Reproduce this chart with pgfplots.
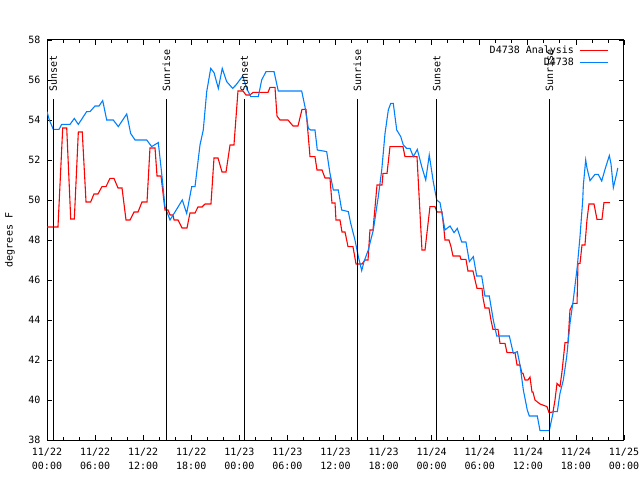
\documentclass[border=0pt]{standalone}
\usepackage{pgfplots}
\pgfplotsset{compat=1.18}
\usepackage{fontspec}
\setmainfont{DejaVu Sans Mono}
\definecolor{gpblue}{RGB}{0,128,255}
\begin{document}
\fontsize{10bp}{13bp}\selectfont
\begin{tikzpicture}
\begin{axis}[
  at={(0,0)}, anchor=south west,
  scale only axis, width=577bp, height=400bp,
  xmin=0, xmax=72, ymin=38, ymax=58,
  xtick={0,6,...,72}, minor x tick num=2,
  xticklabels={11/22\\00:00,11/22\\06:00,11/22\\12:00,11/22\\18:00,11/23\\00:00,11/23\\06:00,11/23\\12:00,11/23\\18:00,11/24\\00:00,11/24\\06:00,11/24\\12:00,11/24\\18:00,11/25\\00:00},
  ytick={38,40,...,58},
  tick align=inside, major tick length=5bp, minor tick length=3bp,
  tick style={black, line width=0.8bp},
  axis line style={line width=1bp},
  /pgf/number format/assume math mode=true,
  xticklabel style={align=center, font=\fontsize{10bp}{13.5bp}\selectfont, yshift=-5bp},
  yticklabel style={font=\fontsize{10bp}{13bp}\selectfont, xshift=-3bp},
  legend plot pos=right,
  legend cell align=right,
  legend style={at={(rel axis cs:0.978,0.995)}, anchor=north east, draw=none, fill=none,
    font=\fontsize{10bp}{12bp}\selectfont, row sep=-1bp,
    /tikz/every odd column/.append style={column sep=3bp}},
  legend image code/.code={\draw[#1] (0bp,0bp) -- (28bp,0bp);},
]
\addplot[red, line width=1.1bp, no marks] table {
0 48.65
1.37 48.65
1.96 53.6
2.46 53.6
2.96 49.05
3.41 49.05
3.91 53.4
4.40 53.4
4.87 49.9
5.45 49.9
5.86 50.3
6.36 50.3
6.86 50.67
7.36 50.67
7.86 51.08
8.36 51.08
8.86 50.6
9.36 50.6
9.86 49.0
10.36 49.0
10.86 49.4
11.36 49.4
11.85 49.9
12.48 49.9
12.85 52.6
13.48 52.6
13.73 51.2
14.23 51.2
14.72 49.5
15.10 49.5
15.35 49.25
15.72 49.25
15.85 49.0
16.35 49.0
16.85 48.6
17.47 48.6
17.84 49.35
18.47 49.35
18.84 49.65
19.34 49.65
19.72 49.8
20.46 49.8
20.84 52.1
21.34 52.1
21.84 51.4
22.34 51.4
22.84 52.75
23.33 52.75
23.83 55.45
24.46 55.45
24.83 55.25
25.33 55.25
25.71 55.38
27.58 55.38
27.83 55.63
28.45 55.63
28.70 54.2
29.07 54.0
30.07 54.0
30.70 53.7
31.32 53.7
31.82 54.53
32.32 54.53
32.82 52.17
33.44 52.17
33.69 51.5
34.32 51.5
34.69 51.1
35.31 51.1
35.56 49.85
35.94 49.85
36.06 49.0
36.56 49.0
36.81 48.4
37.19 48.4
37.56 47.67
38.18 47.67
38.56 46.8
39.31 46.8
39.68 47.0
40.06 47.0
40.30 48.5
40.68 48.5
41.18 50.75
41.80 50.75
41.93 51.33
42.43 51.33
42.80 52.67
44.42 52.67
44.67 52.17
46.17 52.17
46.79 47.5
47.17 47.5
47.79 49.67
48.41 49.67
48.66 49.4
49.29 49.4
49.54 48.5
49.66 48.0
50.16 48.0
50.41 47.67
50.66 47.2
51.53 47.2
51.66 47.03
52.28 47.03
52.53 46.45
53.16 46.45
53.41 46.0
53.66 45.58
54.28 45.58
54.41 45.1
54.65 44.6
55.15 44.6
55.40 44.0
55.65 43.53
56.28 43.53
56.53 42.83
57.15 42.83
57.40 42.37
58.40 42.37
58.65 41.75
59.02 41.75
59.27 41.33
59.40 41.33
59.65 41.0
60.02 41.0
60.27 41.15
60.52 40.4
60.64 40.4
60.89 40.0
61.52 39.8
62.39 39.67
62.64 39.37
63.14 39.4
63.39 40.0
63.64 40.83
64.01 40.67
64.26 41.4
64.64 42.87
65.01 42.87
65.26 44.5
65.64 44.83
66.14 44.83
66.26 46.83
66.51 46.83
66.76 47.75
67.13 47.75
67.38 49.0
67.63 49.8
68.26 49.8
68.63 49.03
69.25 49.03
69.50 49.87
70.25 49.87
};
\addlegendentry{D4738 Analysis}
\addplot[gpblue, line width=1.1bp, no marks] table {
0 54.42
0.29 54.0
0.79 53.53
1.50 53.53
1.83 53.78
2.87 53.78
3.41 54.08
3.91 53.78
4.95 54.42
5.37 54.42
5.99 54.7
6.49 54.7
6.95 54.97
7.45 54.0
8.27 54.0
8.90 53.67
9.95 54.3
10.44 53.33
10.98 53.0
12.44 53.0
13.06 52.67
13.89 52.87
14.31 51.33
14.72 49.67
15.35 49.0
15.97 49.4
16.88 50.0
17.43 49.33
18.06 50.67
18.47 50.67
19.09 52.75
19.50 53.5
19.93 55.42
20.43 56.58
20.84 56.37
21.38 55.58
21.87 56.58
22.42 55.92
23.17 55.58
23.58 55.75
24.42 56.2
24.92 55.58
25.42 55.17
26.37 55.17
26.79 56.0
27.33 56.42
28.33 56.42
28.86 55.45
31.78 55.45
32.19 54.67
32.61 53.58
32.91 53.5
33.44 53.5
33.73 52.5
34.90 52.42
35.31 51.33
35.73 50.5
36.35 50.5
36.77 49.5
37.60 49.42
37.90 48.83
38.43 48.0
38.85 47.17
39.27 46.47
39.56 46.92
40.09 47.5
40.72 48.5
41.34 50.17
41.77 51.5
42.18 53.33
42.59 54.5
42.89 54.83
43.21 54.83
43.64 53.5
44.14 53.17
44.46 52.75
44.88 52.58
45.30 52.58
45.71 52.17
46.21 52.53
46.76 51.67
47.26 51.0
47.70 52.25
48.20 50.92
48.63 50.0
49.04 49.87
49.66 48.5
50.29 48.7
50.79 48.37
51.20 48.58
51.75 47.9
52.28 47.9
52.70 46.92
53.20 47.17
53.62 46.2
54.24 46.2
54.65 45.2
55.19 45.2
55.69 44.0
56.12 43.2
57.69 43.2
58.19 42.33
58.69 42.42
59.02 41.75
59.44 40.5
59.93 39.5
60.18 39.2
61.18 39.2
61.52 38.47
62.68 38.47
63.18 39.42
63.68 39.42
64.01 40.33
64.43 41.0
64.85 42.17
65.26 43.83
65.67 45.0
66.17 46.67
66.51 48.17
66.85 50.0
66.93 50.75
67.22 52.0
67.38 51.6
67.76 50.97
68.38 51.28
68.79 51.28
69.22 50.95
69.63 51.53
70.17 52.22
70.38 51.8
70.67 50.62
71.09 51.33
71.22 51.6
};
\addlegendentry{D4738}
\draw[black, line width=0.8bp] (axis cs:0.79,38) -- (axis cs:0.79,55.05);
\draw[black, line width=0.8bp] (axis cs:14.89,38) -- (axis cs:14.89,55.05);
\draw[black, line width=0.8bp] (axis cs:24.62,38) -- (axis cs:24.62,55.05);
\draw[black, line width=0.8bp] (axis cs:38.72,38) -- (axis cs:38.72,55.05);
\draw[black, line width=0.8bp] (axis cs:48.63,38) -- (axis cs:48.63,55.05);
\draw[black, line width=0.8bp] (axis cs:62.68,38) -- (axis cs:62.68,55.05);
\node[rotate=90, anchor=west, inner sep=0pt] at (axis cs:0.79,55.4) {Sunset};
\node[rotate=90, anchor=west, inner sep=0pt] at (axis cs:14.89,55.4) {Sunrise};
\node[rotate=90, anchor=west, inner sep=0pt] at (axis cs:24.62,55.4) {Sunset};
\node[rotate=90, anchor=west, inner sep=0pt] at (axis cs:38.72,55.4) {Sunrise};
\node[rotate=90, anchor=west, inner sep=0pt] at (axis cs:48.63,55.4) {Sunset};
\node[rotate=90, anchor=west, inner sep=0pt] at (axis cs:62.68,55.4) {Sunrise};
\node[anchor=base, inner sep=0pt] at (rel axis cs:0.5,1) [yshift=17bp] {Dew Point for D4738 on 2024-Nov-22 (time in UTC)};
\end{axis}
\node[rotate=90, anchor=center, inner sep=0pt] at (-37bp,200bp) {degrees F};
\pgfresetboundingbox
\useasboundingbox (-47bp,-40bp) rectangle (593bp,440bp);
\end{tikzpicture}
\end{document}
